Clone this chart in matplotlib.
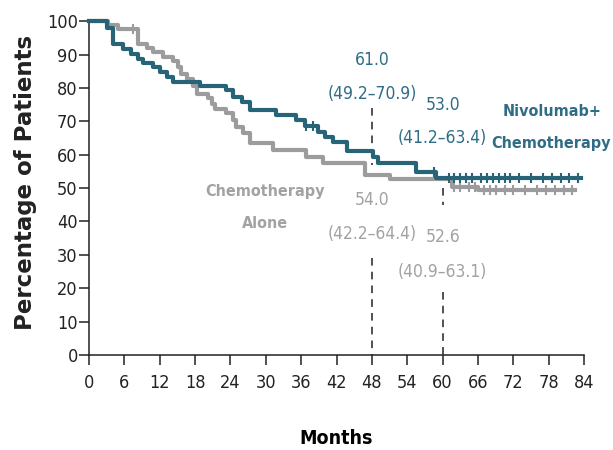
import matplotlib
matplotlib.use("Agg")
import matplotlib.pyplot as plt
import numpy as np

# Kaplan-Meier step data (months, % of patients)
nivo_t = [0, 3.0, 4.1, 5.8, 7.2, 8.4, 9.2, 10.9, 12.0, 13.2, 14.3, 18.8, 23.3, 24.4,
          25.9, 27.3, 31.8, 35.2, 36.6, 38.8, 40.0, 41.4, 43.7, 48.2, 49.0, 55.5, 58.9, 83.5]
nivo_s = [100, 98.0, 93.3, 91.8, 90.3, 88.8, 87.5, 86.3, 84.8, 83.3, 81.8, 80.5, 79.3, 77.3,
          75.8, 73.3, 71.9, 70.4, 68.6, 66.9, 65.4, 63.9, 61.0, 59.4, 57.6, 54.9, 53.0, 53.0]

chemo_t = [0, 3.2, 5.0, 8.4, 9.8, 10.9, 12.6, 14.3, 15.1, 15.7, 16.6, 17.7, 18.3, 20.2,
           20.8, 21.4, 23.3, 24.5, 25.0, 26.2, 27.3, 31.2, 36.9, 39.7, 46.8, 51.0, 61.5, 66.0, 82.4]
chemo_s = [100, 98.8, 97.5, 93.3, 92.0, 90.8, 89.3, 88.0, 86.3, 84.3, 82.8, 80.5, 78.3, 77.0,
           75.3, 73.8, 72.4, 70.4, 68.4, 66.4, 63.4, 61.4, 59.4, 57.4, 54.0, 52.6, 50.4, 49.4, 49.4]

# censoring times
nivo_cens = [36.8, 38.0, 58.5, 61, 62, 63, 64, 65, 66.5, 67.5, 68.5, 69.5, 70.5, 71.5,
             73, 75, 77, 78.5, 80, 81.5, 83]
chemo_cens = [7.5, 62, 63, 64.5, 65.5, 67, 68, 69, 70.5, 72, 74, 76, 77.5, 79, 80.5, 82]

# landmark estimates
landmarks = [48, 60]
nivo_est = ["61.0", "53.0"]
nivo_ci = ["(49.2\u201370.9)", "(41.2\u201363.4)"]
chemo_est = ["54.0", "52.6"]
chemo_ci = ["(42.2\u201364.4)", "(40.9\u201363.1)"]

x_ticks = list(range(0, 85, 6))
y_ticks = list(range(0, 101, 10))

teal = "#286478"
teal_txt = "#2f6d86"
gray = "#9c9c9e"
gray_txt = "#a2a2a4"
narrow = dict(family="DejaVu Sans", stretch="condensed")

fig = plt.figure(figsize=(6.13, 4.5), dpi=100)
ax = fig.add_axes([0.145, 0.211, 0.808, 0.742])


def step_value(t, s, x):
    idx = np.searchsorted(t, x, side="right") - 1
    return s[max(idx, 0)]


ax.step(chemo_t, chemo_s, where="post", color=gray, lw=3.0, clip_on=False, zorder=3)
ax.step(nivo_t, nivo_s, where="post", color=teal, lw=3.0, clip_on=False, zorder=4)

ax.plot(chemo_cens, [step_value(chemo_t, chemo_s, c) for c in chemo_cens], ls="none",
        marker="|", ms=7, mew=1.5, color=gray, clip_on=False, zorder=3)
ax.plot(nivo_cens, [step_value(nivo_t, nivo_s, c) for c in nivo_cens], ls="none",
        marker="|", ms=7, mew=1.5, color=teal, clip_on=False, zorder=4)

# dashed landmark lines, interrupted by the estimate labels
dash_kw = dict(color="#222222", lw=1.1, ls=(0, (5, 4)), zorder=2)
ax.plot([48, 48], [74, 57], **dash_kw)
ax.plot([48, 48], [29, 0], **dash_kw)
ax.plot([60, 60], [50, 45], **dash_kw)
ax.plot([60, 60], [19, 0], **dash_kw)

# labels
fs = 12.5
bfs = 11.5
ax.text(48, 88.3, nivo_est[0], ha="center", va="center", fontsize=fs, color=teal_txt, **narrow)
ax.text(48, 78.3, nivo_ci[0], ha="center", va="center", fontsize=fs, color=teal_txt, **narrow)
ax.text(60, 74.9, nivo_est[1], ha="center", va="center", fontsize=fs, color=teal_txt, **narrow)
ax.text(60, 64.9, nivo_ci[1], ha="center", va="center", fontsize=fs, color=teal_txt, **narrow)
ax.text(48, 46.4, chemo_est[0], ha="center", va="center", fontsize=fs, color=gray_txt, **narrow)
ax.text(48, 36.4, chemo_ci[0], ha="center", va="center", fontsize=fs, color=gray_txt, **narrow)
ax.text(60, 35.4, chemo_est[1], ha="center", va="center", fontsize=fs, color=gray_txt, **narrow)
ax.text(60, 24.9, chemo_ci[1], ha="center", va="center", fontsize=fs, color=gray_txt, **narrow)

ax.text(78.6, 72.8, "Nivolumab+", ha="center", va="center", fontsize=bfs, color=teal_txt,
        fontweight="bold", clip_on=False, **narrow)
ax.text(78.4, 63.4, "Chemotherapy", ha="center", va="center", fontsize=bfs, color=teal_txt,
        fontweight="bold", clip_on=False, **narrow)
ax.text(29.8, 48.9, "Chemotherapy", ha="center", va="center", fontsize=bfs, color=gray_txt,
        fontweight="bold", **narrow)
ax.text(29.8, 39.4, "Alone", ha="center", va="center", fontsize=bfs, color=gray_txt,
        fontweight="bold", **narrow)

ax.set_xlim(0, 84)
ax.set_ylim(0, 100)
ax.set_xticks(x_ticks)
ax.set_xticklabels([str(v) for v in x_ticks], fontsize=13, **narrow)
ax.set_yticks(y_ticks)
ax.set_yticklabels([str(v) for v in y_ticks], fontsize=13, **narrow)
ax.tick_params(axis="x", direction="out", length=7, width=1.1, pad=7, colors="#222222")
ax.tick_params(axis="y", direction="out", length=7, width=1.1, pad=1, colors="#222222")

for side in ["top", "right"]:
    ax.spines[side].set_visible(False)
for side in ["left", "bottom"]:
    ax.spines[side].set_linewidth(1.1)
    ax.spines[side].set_color("#222222")

ax.set_xlabel("Months", fontsize=14, fontweight="bold", labelpad=26, **narrow)
fig.text(0.041, 0.594, "Percentage of Patients", rotation=90, ha="center", va="center",
         fontsize=16.5, fontweight="bold", family="DejaVu Sans", color="#222222")

fig.savefig("out.png", dpi=100)
